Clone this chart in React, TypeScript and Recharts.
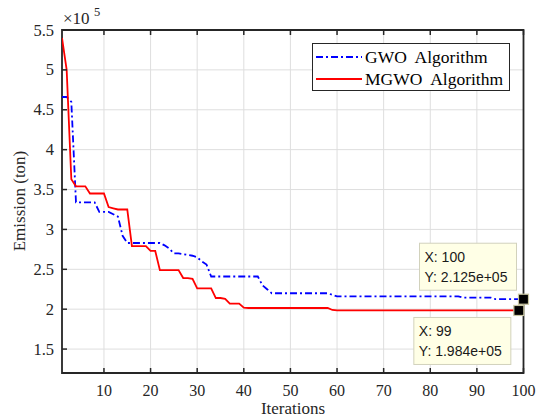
import React from 'react';
import {
  LineChart,
  Line,
  XAxis,
  YAxis,
  CartesianGrid,
  Legend,
  ReferenceDot,
  ReferenceArea,
  Customized,
} from 'recharts';

// best fitness (emission, ton) per iteration
const gwoEmission = [
  466000, 466000, 460000, 334000, 334000, 334000, 334000, 334000, 322000, 322000,
  322000, 319000, 316000, 292000, 283000, 283000, 283000, 283000, 283000, 283000,
  283000, 283000, 280000, 276000, 270000, 270000, 269000, 268000, 267000, 265000,
  260000, 256000, 241000, 241000, 241000, 241000, 241000, 241000, 241000, 241000,
  241000, 241000, 241000, 230000, 225000, 220000, 220000, 220000, 220000, 220000,
  220000, 220000, 220000, 220000, 220000, 220000, 220000, 220000, 218000, 216000,
  216000, 216000, 216000, 216000, 216000, 216000, 216000, 216000, 216000, 216000,
  216000, 216000, 216000, 216000, 216000, 216000, 216000, 216000, 216000, 216000,
  216000, 216000, 216000, 216000, 216000, 216000, 214500, 214500, 214500, 214500,
  214500, 214500, 214500, 212500, 212500, 212500, 212500, 212500, 212500, 212500,
];

const mgwoEmission = [
  540000, 500000, 363000, 354000, 354000, 354000, 345000, 345000, 345000, 345000,
  328000, 326500, 325000, 325000, 325000, 279000, 279000, 279000, 279000, 273000,
  273000, 249000, 249000, 249000, 249000, 249000, 239000, 239000, 238000, 226000,
  226000, 226000, 226000, 214000, 214000, 213000, 207000, 207000, 207000, 202000,
  201500, 201500, 201500, 201500, 201500, 201500, 201500, 201500, 201500, 201500,
  201500, 201500, 201500, 201500, 201500, 201500, 201500, 201500, 199000, 198400,
  198400, 198400, 198400, 198400, 198400, 198400, 198400, 198400, 198400, 198400,
  198400, 198400, 198400, 198400, 198400, 198400, 198400, 198400, 198400, 198400,
  198400, 198400, 198400, 198400, 198400, 198400, 198400, 198400, 198400, 198400,
  198400, 198400, 198400, 198400, 198400, 198400, 198400, 198400, 198400, 198400,
];

const xTicks = [10, 20, 30, 40, 50, 60, 70, 80, 90, 100];
const yTicks = [150000, 200000, 250000, 300000, 350000, 400000, 450000, 500000, 550000];
const xDomain = [1, 100];
const yDomain = [120000, 550000];

// data tips shown in the figure
const gwoTipIter = 100;
const mgwoTipIter = 99;

const data = gwoEmission.map((v, i) => ({
  iter: i + 1,
  gwo: v,
  mgwo: mgwoEmission[i],
}));

const SERIF = '"Liberation Serif", "Times New Roman", serif';
const SANS = '"Liberation Sans", Arial, sans-serif';
const INK = '#262626';
const TICK_LEN = 5;
const GAP = 8;

const fmtExp = (v: number) => v.toExponential(3).replace(/e\+(\d)$/, 'e+0$1');

// inward tick marks (MATLAB style) drawn together with the labels
const BottomTick = (props: any) => {
  const { x, y, payload } = props;
  const axisY = y - GAP;
  return (
    <g>
      <line x1={x} y1={axisY} x2={x} y2={axisY - TICK_LEN} stroke={INK} strokeWidth={1.5} />
      <text x={x} y={axisY + 23} textAnchor="middle" fontFamily={SERIF} fontSize={16} fill={INK}>
        {payload.value}
      </text>
    </g>
  );
};

const LeftTick = (props: any) => {
  const { x, y, payload } = props;
  const axisX = x + GAP;
  return (
    <g>
      <line x1={axisX} y1={y} x2={axisX + TICK_LEN} y2={y} stroke={INK} strokeWidth={1.5} />
      <text x={axisX - 8} y={y + 5.5} textAnchor="end" fontFamily={SERIF} fontSize={16.5} fill={INK}>
        {String(payload.value / 1e5)}
      </text>
    </g>
  );
};

const TopTick = (props: any) => {
  const { x, y } = props;
  const axisY = y + GAP;
  return <line x1={x} y1={axisY} x2={x} y2={axisY + TICK_LEN} stroke={INK} strokeWidth={1.5} />;
};

const RightTick = (props: any) => {
  const { x, y } = props;
  const axisX = x - GAP;
  return <line x1={axisX} y1={y} x2={axisX - TICK_LEN} y2={y} stroke={INK} strokeWidth={1.5} />;
};

const makeTip = (iter: number, value: number, dx: number, dy: number) => (props: any) => {
  const { cx, cy } = props;
  const bx = cx + dx;
  const by = cy + dy;
  return (
    <g>
      <rect x={bx} y={by} width={97} height={47} fill="#FFFFE6" stroke="#d2d2bc" strokeWidth={1} />
      <text x={bx + 5} y={by + 19} fontFamily={SANS} fontSize={14} fill="#1a1a1a">{`X: ${iter}`}</text>
      <text x={bx + 5} y={by + 39} fontFamily={SANS} fontSize={14} fill="#1a1a1a">{`Y: ${fmtExp(value)}`}</text>
      <rect x={cx - 5} y={cy - 5} width={10} height={10} fill="#000" stroke="#c9c7a2" strokeWidth={1.2} />
    </g>
  );
};

const LegendBox = () => (
  <div
    style={{
      width: 198,
      height: 48,
      boxSizing: 'border-box',
      border: `1.5px solid ${INK}`,
      background: '#fff',
      fontFamily: SERIF,
      fontSize: 17.5,
      color: '#000',
      paddingTop: 2,
    }}
  >
    {[
      { name: 'GWO  Algorithm', color: '#0000FF', dash: '7 3 2 3' },
      { name: 'MGWO  Algorithm', color: '#FF0000', dash: undefined },
    ].map((e) => (
      <div key={e.name} style={{ display: 'flex', alignItems: 'center', height: 22 }}>
        <svg width={50} height={20} style={{ marginLeft: 2 }}>
          <line x1={1} y1={10} x2={47} y2={10} stroke={e.color} strokeWidth={1.8} strokeDasharray={e.dash} />
        </svg>
        <span style={{ whiteSpace: 'pre', lineHeight: '20px' }}>{e.name}</span>
      </div>
    ))}
  </div>
);

const AxisTexts = () => (
  <g fontFamily={SERIF} fill={INK}>
    <text x={63} y={24} fontSize={17}>×10</text>
    <text x={94} y={16} fontSize={12.5}>5</text>
    <text x={293} y={414} fontSize={17} textAnchor="middle">Iterations</text>
    <text x={25} y={201} fontSize={17} textAnchor="middle" transform="rotate(-90 25 201)">Emission (ton)</text>
  </g>
);

export default function App() {
  return (
    <div style={{ position: 'absolute', left: 0, top: 0, background: '#fff' }}>
      <LineChart width={537} height={418} data={data} margin={{ top: 20, right: 3, bottom: 15, left: 12 }}>
        <CartesianGrid stroke="#dedede" strokeWidth={1} />
        <XAxis
          dataKey="iter"
          type="number"
          domain={xDomain}
          ticks={xTicks}
          height={30}
          tickSize={0}
          tickMargin={GAP}
          tickLine={false}
          axisLine={false}
          tick={<BottomTick />}
          allowDataOverflow
        />
        <XAxis
          xAxisId="top"
          orientation="top"
          dataKey="iter"
          type="number"
          domain={xDomain}
          ticks={xTicks}
          height={10}
          tickSize={0}
          tickMargin={GAP}
          tickLine={false}
          axisLine={false}
          tick={<TopTick />}
        />
        <YAxis
          type="number"
          domain={yDomain}
          ticks={yTicks}
          width={50}
          tickSize={0}
          tickMargin={GAP}
          tickLine={false}
          axisLine={false}
          tick={<LeftTick />}
          allowDataOverflow
        />
        <YAxis
          yAxisId="right"
          orientation="right"
          type="number"
          domain={yDomain}
          ticks={yTicks}
          width={10.5}
          tickSize={0}
          tickMargin={GAP}
          tickLine={false}
          axisLine={false}
          tick={<RightTick />}
        />
        <Line
          type="linear"
          dataKey="gwo"
          name="GWO  Algorithm"
          stroke="#0000FF"
          strokeWidth={1.8}
          strokeDasharray="7 3 2 3"
          dot={false}
          isAnimationActive={false}
        />
        <Line
          type="linear"
          dataKey="mgwo"
          name="MGWO  Algorithm"
          stroke="#FF0000"
          strokeWidth={1.8}
          dot={false}
          isAnimationActive={false}
        />
        {/* axes box */}
        <ReferenceArea
          x1={xDomain[0]}
          x2={xDomain[1]}
          y1={yDomain[0]}
          y2={yDomain[1]}
          fill="none"
          fillOpacity={0}
          stroke={INK}
          strokeWidth={1.8}
          ifOverflow="visible"
        />
        <ReferenceDot
          x={gwoTipIter}
          y={gwoEmission[gwoTipIter - 1]}
          r={5}
          shape={makeTip(gwoTipIter, gwoEmission[gwoTipIter - 1], -104, -56)}
          ifOverflow="visible"
        />
        <ReferenceDot
          x={mgwoTipIter}
          y={mgwoEmission[mgwoTipIter - 1]}
          r={5}
          shape={makeTip(mgwoTipIter, mgwoEmission[mgwoTipIter - 1], -105, 7)}
          ifOverflow="visible"
        />
        <Legend
          layout="horizontal"
          align="center"
          verticalAlign="middle"
          content={() => <LegendBox />}
          wrapperStyle={{ position: 'absolute', left: 312, top: 43, width: 198, height: 48 }}
        />
        <Customized component={AxisTexts} />
      </LineChart>
    </div>
  );
}
